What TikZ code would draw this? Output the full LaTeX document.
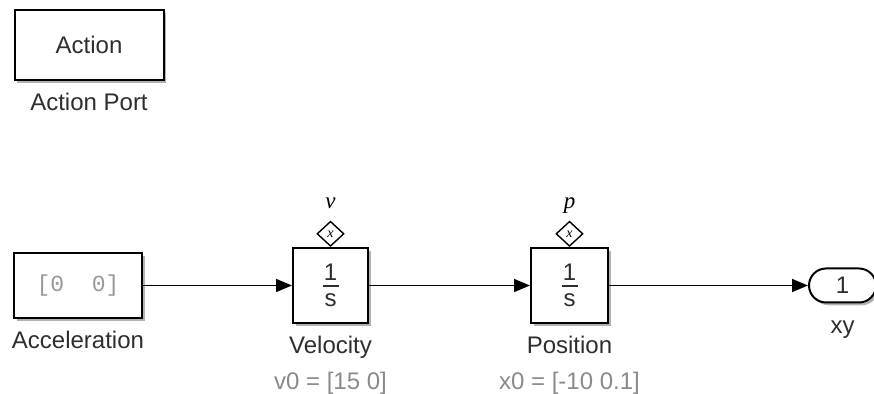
\documentclass[tikz,border=0pt]{standalone}
\usepackage{fontspec}
\setmainfont{Liberation Sans}
\newfontfamily\monofont{Liberation Mono}
\newfontfamily\seriffont{Liberation Serif}
\usetikzlibrary{arrows.meta,positioning,shapes.geometric,shadows}
\definecolor{lblgray}{HTML}{2E2E2E}
\definecolor{prmgray}{HTML}{8A8A8A}
\definecolor{cstgray}{HTML}{999999}
\newcommand{\oneovers}{\vbox{\offinterlineskip\hbox to 8pt{\hss 1\hss}\kern2.2pt\hrule height 1pt\kern3.5pt\hbox to 8pt{\hss s\hss}}}

\begin{document}
\begin{tikzpicture}[x=1pt,y=1pt,font=\fontsize{12}{14}\selectfont,
    blk/.style={draw,line width=1pt,fill=white,inner sep=0pt,text=lblgray,
      drop shadow={shadow xshift=1.4pt,shadow yshift=-1.4pt,opacity=0.3,fill=black}},
    lbl/.style={inner sep=0pt,text height=8.6pt,text depth=2.5pt,text=lblgray},
    prm/.style={lbl,text=prmgray},
    vstate/.style={draw,diamond,line width=0.7pt,fill=white,inner sep=0pt,
      minimum width=13.5pt,minimum height=12.5pt,font=\seriffont\itshape\fontsize{7}{8}\selectfont},
    vname/.style={inner sep=0pt,text height=5pt,text depth=2.2pt,font=\seriffont\itshape\fontsize{11.5}{13}\selectfont},
    sig/.style={-{Triangle[length=8pt,width=6.5pt]},line width=0.75pt}]
  \path[use as bounding box] (0,0) rectangle (437,-197);

  \node[blk,minimum width=74.5pt,minimum height=35pt] (act) at (44.5,-22.5) {Action};
  \node[lbl,below=6pt of act] (actlbl) {Action Port};

  \node[blk,minimum width=64pt,minimum height=32.5pt] (acc) at (39,-142.75) {\monofont\fontsize{11.5}{13}\selectfont\color{cstgray}[0\ \ 0]};
  \node[lbl,below=6.2pt of acc] (acclbl) {Acceleration};

  \node[blk,minimum width=37.5pt,minimum height=37.5pt,right=74.5pt of acc] (vel) {\oneovers};
  \node[lbl,below=6pt of vel] (vellbl) {Velocity};
  \node[prm,below=6.4pt of vellbl] (velprm) {v0 = [15 0]};
  \node[vstate,above=0pt of vel] (velst) {x};
  \node[vname,above=3.5pt of velst] (velname) {v};

  \node[blk,minimum width=38.5pt,minimum height=37.5pt,right=80.5pt of vel] (pos) {\oneovers};
  \node[lbl,below=6pt of pos] (poslbl) {Position};
  \node[prm,below=6.4pt of poslbl] (posprm) {x0 = [-10 0.1]};
  \node[vstate,above=0pt of pos] (posst) {x};
  \node[vname,above=3.5pt of posst] (posname) {p};

  \node[blk,rounded corners=8.5pt,minimum width=33.5pt,minimum height=17pt,right=99.5pt of pos] (out) {1};
  \node[lbl,below=6.4pt of out] (outlbl) {xy};

  \draw[sig] (acc) -- (vel);
  \draw[sig] (vel) -- (pos);
  \draw[sig] (pos) -- (out);
\end{tikzpicture}
\end{document}
